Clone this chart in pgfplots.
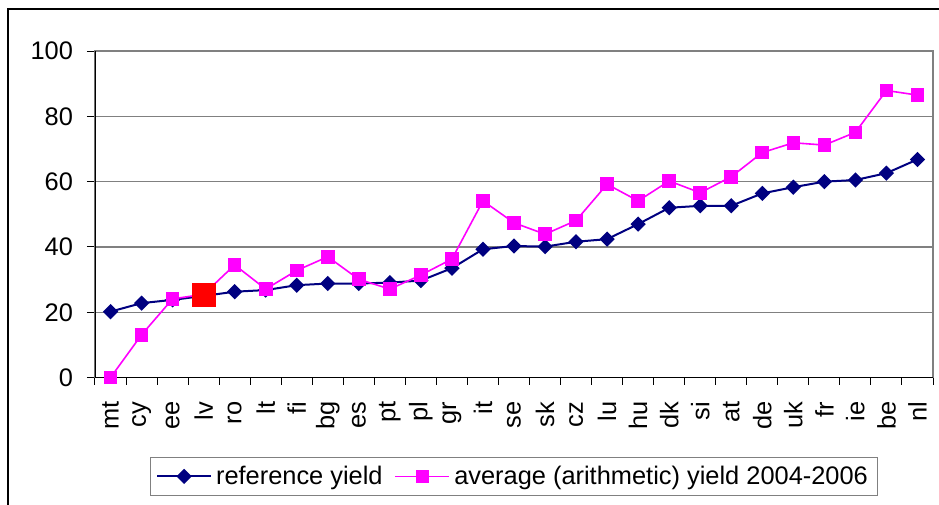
\documentclass[border=0pt]{standalone}
\usepackage{fontspec}
\setmainfont{Liberation Sans}
\usepackage{pgfplots}
\pgfplotsset{compat=1.18}
\usepackage{pgfplotstable}

\definecolor{refnavy}{RGB}{0,0,128}
\definecolor{avgmag}{RGB}{255,0,255}
\definecolor{gridgray}{RGB}{128,128,128}

% idx: mt cy ee lv ro lt fi bg es pt pl gr it se sk cz lu hu dk si at de uk fr ie be nl
\pgfplotstableread{
idx ref  avg
0   20.2 0.0
1   22.8 13.1
2   23.8 24.1
3   25.0 25.5
4   26.3 34.5
5   26.8 27.1
6   28.3 32.8
7   28.8 37.0
8   28.8 30.1
9   29.1 27.1
10  29.7 31.4
11  33.5 36.3
12  39.3 54.1
13  40.3 47.4
14  40.1 43.9
15  41.6 48.1
16  42.4 59.2
17  47.0 54.1
18  52.0 60.2
19  52.6 56.6
20  52.6 61.5
21  56.4 68.9
22  58.3 71.9
23  60.0 71.2
24  60.5 75.1
25  62.6 87.9
26  66.8 86.5
}\yields

\pgfplotstableread{
idx val
3   25.4
}\highlight

\newcommand{\chartfont}{\fontsize{12.7}{15}\selectfont}

\begin{document}
\begin{tikzpicture}
\useasboundingbox (-47.5pt,-63.65pt) rectangle (422pt,188.8pt);
\begin{axis}[
  scale only axis,
  width=419pt, height=163.3pt,
  xmin=-0.5, xmax=26.5, ymin=0, ymax=100,
  xtick={0,...,26},
  xticklabels={mt,cy,ee,lv,ro,lt,fi,bg,es,pt,pl,gr,it,se,sk,cz,lu,hu,dk,si,at,de,uk,fr,ie,be,nl},
  minor xtick={-0.5,0.5,...,26.5},
  ytick={0,20,...,100},
  tick pos=left,
  tick align=outside,
  major tick length=4pt,
  minor tick length=3.5pt,
  major x tick style={draw=none},
  tick style={black, line width=0.5pt},
  ymajorgrids,
  grid style={gridgray, line width=0.6pt},
  axis line style={gridgray, line width=0.6pt},
  /pgf/number format/assume math mode=true,
  tick label style={font=\chartfont},
  yticklabel style={xshift=-3.5pt},
  xticklabel style={rotate=90, anchor=east, xshift=-4.5pt},
  legend columns=-1,
  legend style={
    at={(axis description cs:0.5,-0.3025)}, anchor=center,
    draw=gridgray, line width=0.5pt, font=\chartfont,
    /tikz/every even column/.append style={column sep=4pt},
  },
  legend image code/.code={%
    \draw[mark repeat=2, mark phase=2] plot coordinates {(0pt,0pt) (13.5pt,0pt) (27pt,0pt)};},
]
\addplot[refnavy, line width=1pt, mark=square*, mark size=2.2pt,
  mark options={rotate=45, fill=refnavy, draw=refnavy}]
  table[x=idx, y=ref] {\yields};
\addlegendentry{reference yield}
\addplot[avgmag, line width=0.8pt, mark=square*, mark size=3pt,
  mark options={fill=avgmag, draw=avgmag}]
  table[x=idx, y=avg] {\yields};
\addlegendentry{average (arithmetic) yield 2004-2006}
\addplot[forget plot, only marks, mark=square*, mark size=5.8pt,
  mark options={fill=red, draw=red}]
  table[x=idx, y=val] {\highlight};
\draw[black, line width=0.6pt] (rel axis cs:0,1) -- (rel axis cs:0,0) -- (rel axis cs:1,0);
\end{axis}
\draw[black, line width=1pt] (-43.35pt,-70pt) -- (-43.35pt,184.2pt) -- (430pt,184.2pt);
\end{tikzpicture}
\end{document}
